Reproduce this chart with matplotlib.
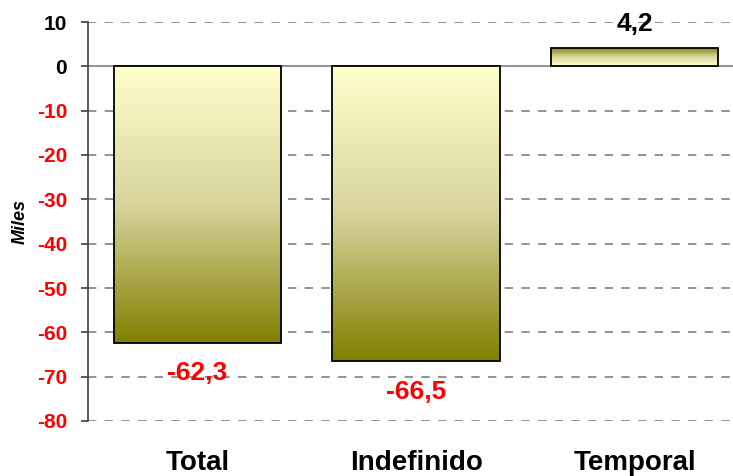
import numpy as np
import matplotlib
matplotlib.use("Agg")
import matplotlib.pyplot as plt
from matplotlib.colors import LinearSegmentedColormap

# Data (miles)
categories = ["Total", "Indefinido", "Temporal"]
values = [-62.3, -66.5, 4.2]
value_labels = ["-62,3", "-66,5", "4,2"]
yticks = [10, 0, -10, -20, -30, -40, -50, -60, -70, -80]

plt.rcParams['font.family'] = ['Liberation Sans', 'DejaVu Sans']

fig = plt.figure(figsize=(7.33, 4.76), dpi=100)
ax = fig.add_axes([88 / 733, 1 - 421 / 476, 1 - 88 / 733, (421 - 22) / 476])

# gradient from light yellow (at zero) to olive (at bar end)
cmap = LinearSegmentedColormap.from_list("olive", ["#FFFFCC", "#D8D49C", "#808000"])
grad = np.linspace(0, 1, 256).reshape(-1, 1)

x = np.arange(len(categories))
bars = ax.bar(x, values, width=0.765, facecolor="none", edgecolor="black",
              linewidth=1.3, zorder=3)
for b, v in zip(bars, values):
    x0 = b.get_x()
    x1 = x0 + b.get_width()
    im = ax.imshow(grad, cmap=cmap, aspect="auto", origin="lower",
                   extent=(x0, x1, 0, v), zorder=2, interpolation="bilinear")
    im.set_clip_path(b)

# value labels
for xi, v, lab in zip(x, values, value_labels):
    if v < 0:
        ax.text(xi, v - 4.2, lab, ha="center", va="top", fontsize=19,
                fontweight="bold", color="red", zorder=4)
    else:
        ax.text(xi, v + 2.6, lab, ha="center", va="bottom", fontsize=19,
                fontweight="bold", color="black", zorder=4)

ax.set_xlim(-0.5, 2.449)
ax.set_ylim(-80, 10)

# grid
for t in yticks:
    if t == 0:
        ax.axhline(0, color="#808080", linewidth=1.2, zorder=1)
    else:
        ax.axhline(t, color="#808080", linewidth=1.2, linestyle=(0, (5, 5)), zorder=1)

ax.set_yticks(yticks)
ax.set_yticklabels([str(t) for t in yticks])
for lab, t in zip(ax.get_yticklabels(), yticks):
    lab.set_color("black" if t >= 0 else "red")
    lab.set_fontweight("bold")
    lab.set_fontsize(15)
ax.tick_params(axis="y", length=5, width=1.2, color="#404040", pad=10)

ax.set_xticks(x)
ax.set_xticklabels(categories, fontsize=20, fontweight="bold")
ax.tick_params(axis="x", length=0, pad=21)

for s in ["top", "right", "bottom"]:
    ax.spines[s].set_visible(False)
ax.spines["left"].set_color("#404040")
ax.spines["left"].set_linewidth(1.2)

ax.set_ylabel("Miles", fontsize=13, fontweight="bold", fontstyle="italic", labelpad=6)

fig.savefig("out.png", dpi=100)
